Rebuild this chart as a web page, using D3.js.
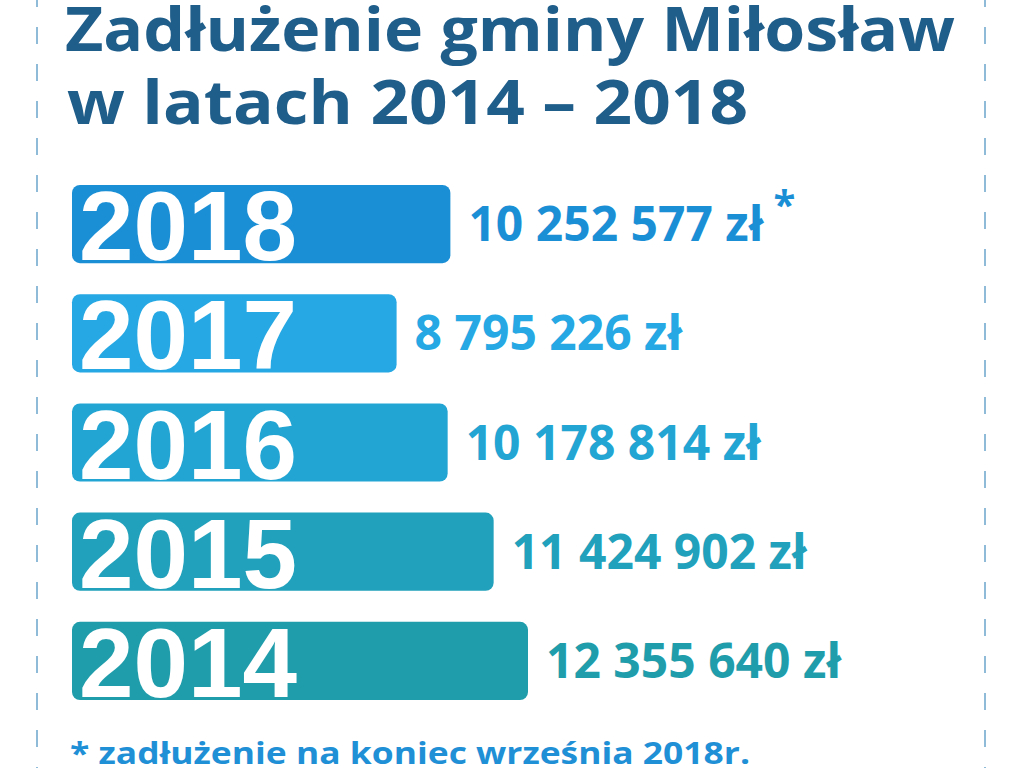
<!DOCTYPE html>
<html>
<head>
<meta charset="utf-8">
<script src="https://cdn.jsdelivr.net/npm/d3@7"></script>
<style>
  html, body { margin: 0; padding: 0; background: #fff; }
  svg { display: block; }
</style>
</head>
<body>
<div id="chart"></div>
<script>
// Zadłużenie gminy Miłosław 2014-2018, horizontal bars

const years = ["2018", "2017", "2016", "2015", "2014"];
const debts = [10252577, 8795226, 10178814, 11424902, 12355640];
const marked = ["2018"]; // value with footnote star
const titleLines = ["Zadłużenie gminy Miłosław", "w latach 2014 – 2018"];
const footnote = "* zadłużenie na koniec września 2018r.";

// palette, top to bottom
const barColors = ["#1b8fd6", "#25a8e3", "#23a5d3", "#21a1bb", "#1f9dab"];

const W = 1024, H = 768;

const svg = d3.select("#chart")
  .append("svg")
  .attr("width", W)
  .attr("height", H);

// dashed frame lines left / right
svg.selectAll(".frame")
  .data([37, 985])
  .enter()
  .append("line")
  .attr("class", "frame")
  .attr("x1", d => d).attr("x2", d => d)
  .attr("y1", 0).attr("y2", H)
  .attr("stroke", "#8fbad8")
  .attr("stroke-width", 2)
  .attr("stroke-dasharray", "17 20")
  .attr("stroke-dashoffset", 10);

// title
svg.selectAll(".title")
  .data(titleLines)
  .enter()
  .append("text")
  .attr("class", "title")
  .attr("x", (d, i) => i ? 67 : 65)
  .attr("y", (d, i) => i ? 124 : 51)
  .attr("textLength", (d, i) => i ? 681 : 890)
  .attr("lengthAdjust", "spacingAndGlyphs")
  .style("font-family", "'Open Sans', sans-serif")
  .style("font-weight", 700)
  .style("font-size", "60px")
  .attr("fill", "#1f5d8a")
  .text(d => d);

// scales
const x = d3.scaleLinear()
  .domain([0, d3.max(debts)])
  .range([0, 456]);

const y = d3.scaleBand()
  .domain(years)
  .range([185, 700])
  .paddingInner(0.284)
  .paddingOuter(0);

const color = d3.scaleOrdinal().domain(years).range(barColors);

const pl = d3.formatLocale({ decimal: ",", thousands: " ", grouping: [3], currency: ["", " zł"] });
const fmt = pl.format("$,d");

const left = 72;
const rows = years.map((yr, i) => ({ year: yr, value: debts[i] }));

const g = svg.selectAll(".row")
  .data(rows)
  .enter()
  .append("g")
  .attr("class", "row");

g.append("rect")
  .attr("x", left)
  .attr("y", d => y(d.year))
  .attr("width", d => x(d.value))
  .attr("height", y.bandwidth())
  .attr("rx", 8)
  .attr("fill", d => color(d.year));

// year inside bar
g.append("text")
  .attr("x", left + 7)
  .attr("y", d => y(d.year) + y.bandwidth() - 3)
  .style("font-family", "'Liberation Sans', Arial, sans-serif")
  .style("font-weight", 700)
  .style("font-size", "98px")
  .attr("fill", "#fff")
  .text(d => d.year);

// value label
const lab = g.append("text")
  .attr("x", d => left + x(d.value) + 18)
  .attr("y", d => y(d.year) + y.bandwidth() / 2 + 17)
  .style("font-family", "'Open Sans', sans-serif")
  .style("font-weight", 700)
  .style("font-size", "48px")
  .attr("fill", d => color(d.year))
  .text(d => fmt(d.value));

lab.filter(d => marked.includes(d.year))
  .append("tspan")
  .attr("dx", 10)
  .attr("dy", -22)
  .style("font-size", "40px")
  .text("*");

// footnote
svg.append("text")
  .attr("x", 70)
  .attr("y", 764)
  .attr("textLength", 680)
  .attr("lengthAdjust", "spacingAndGlyphs")
  .style("font-family", "'Open Sans', sans-serif")
  .style("font-weight", 700)
  .style("font-size", "31px")
  .attr("fill", "#1f8fd6")
  .text(footnote);
</script>
</body>
</html>
